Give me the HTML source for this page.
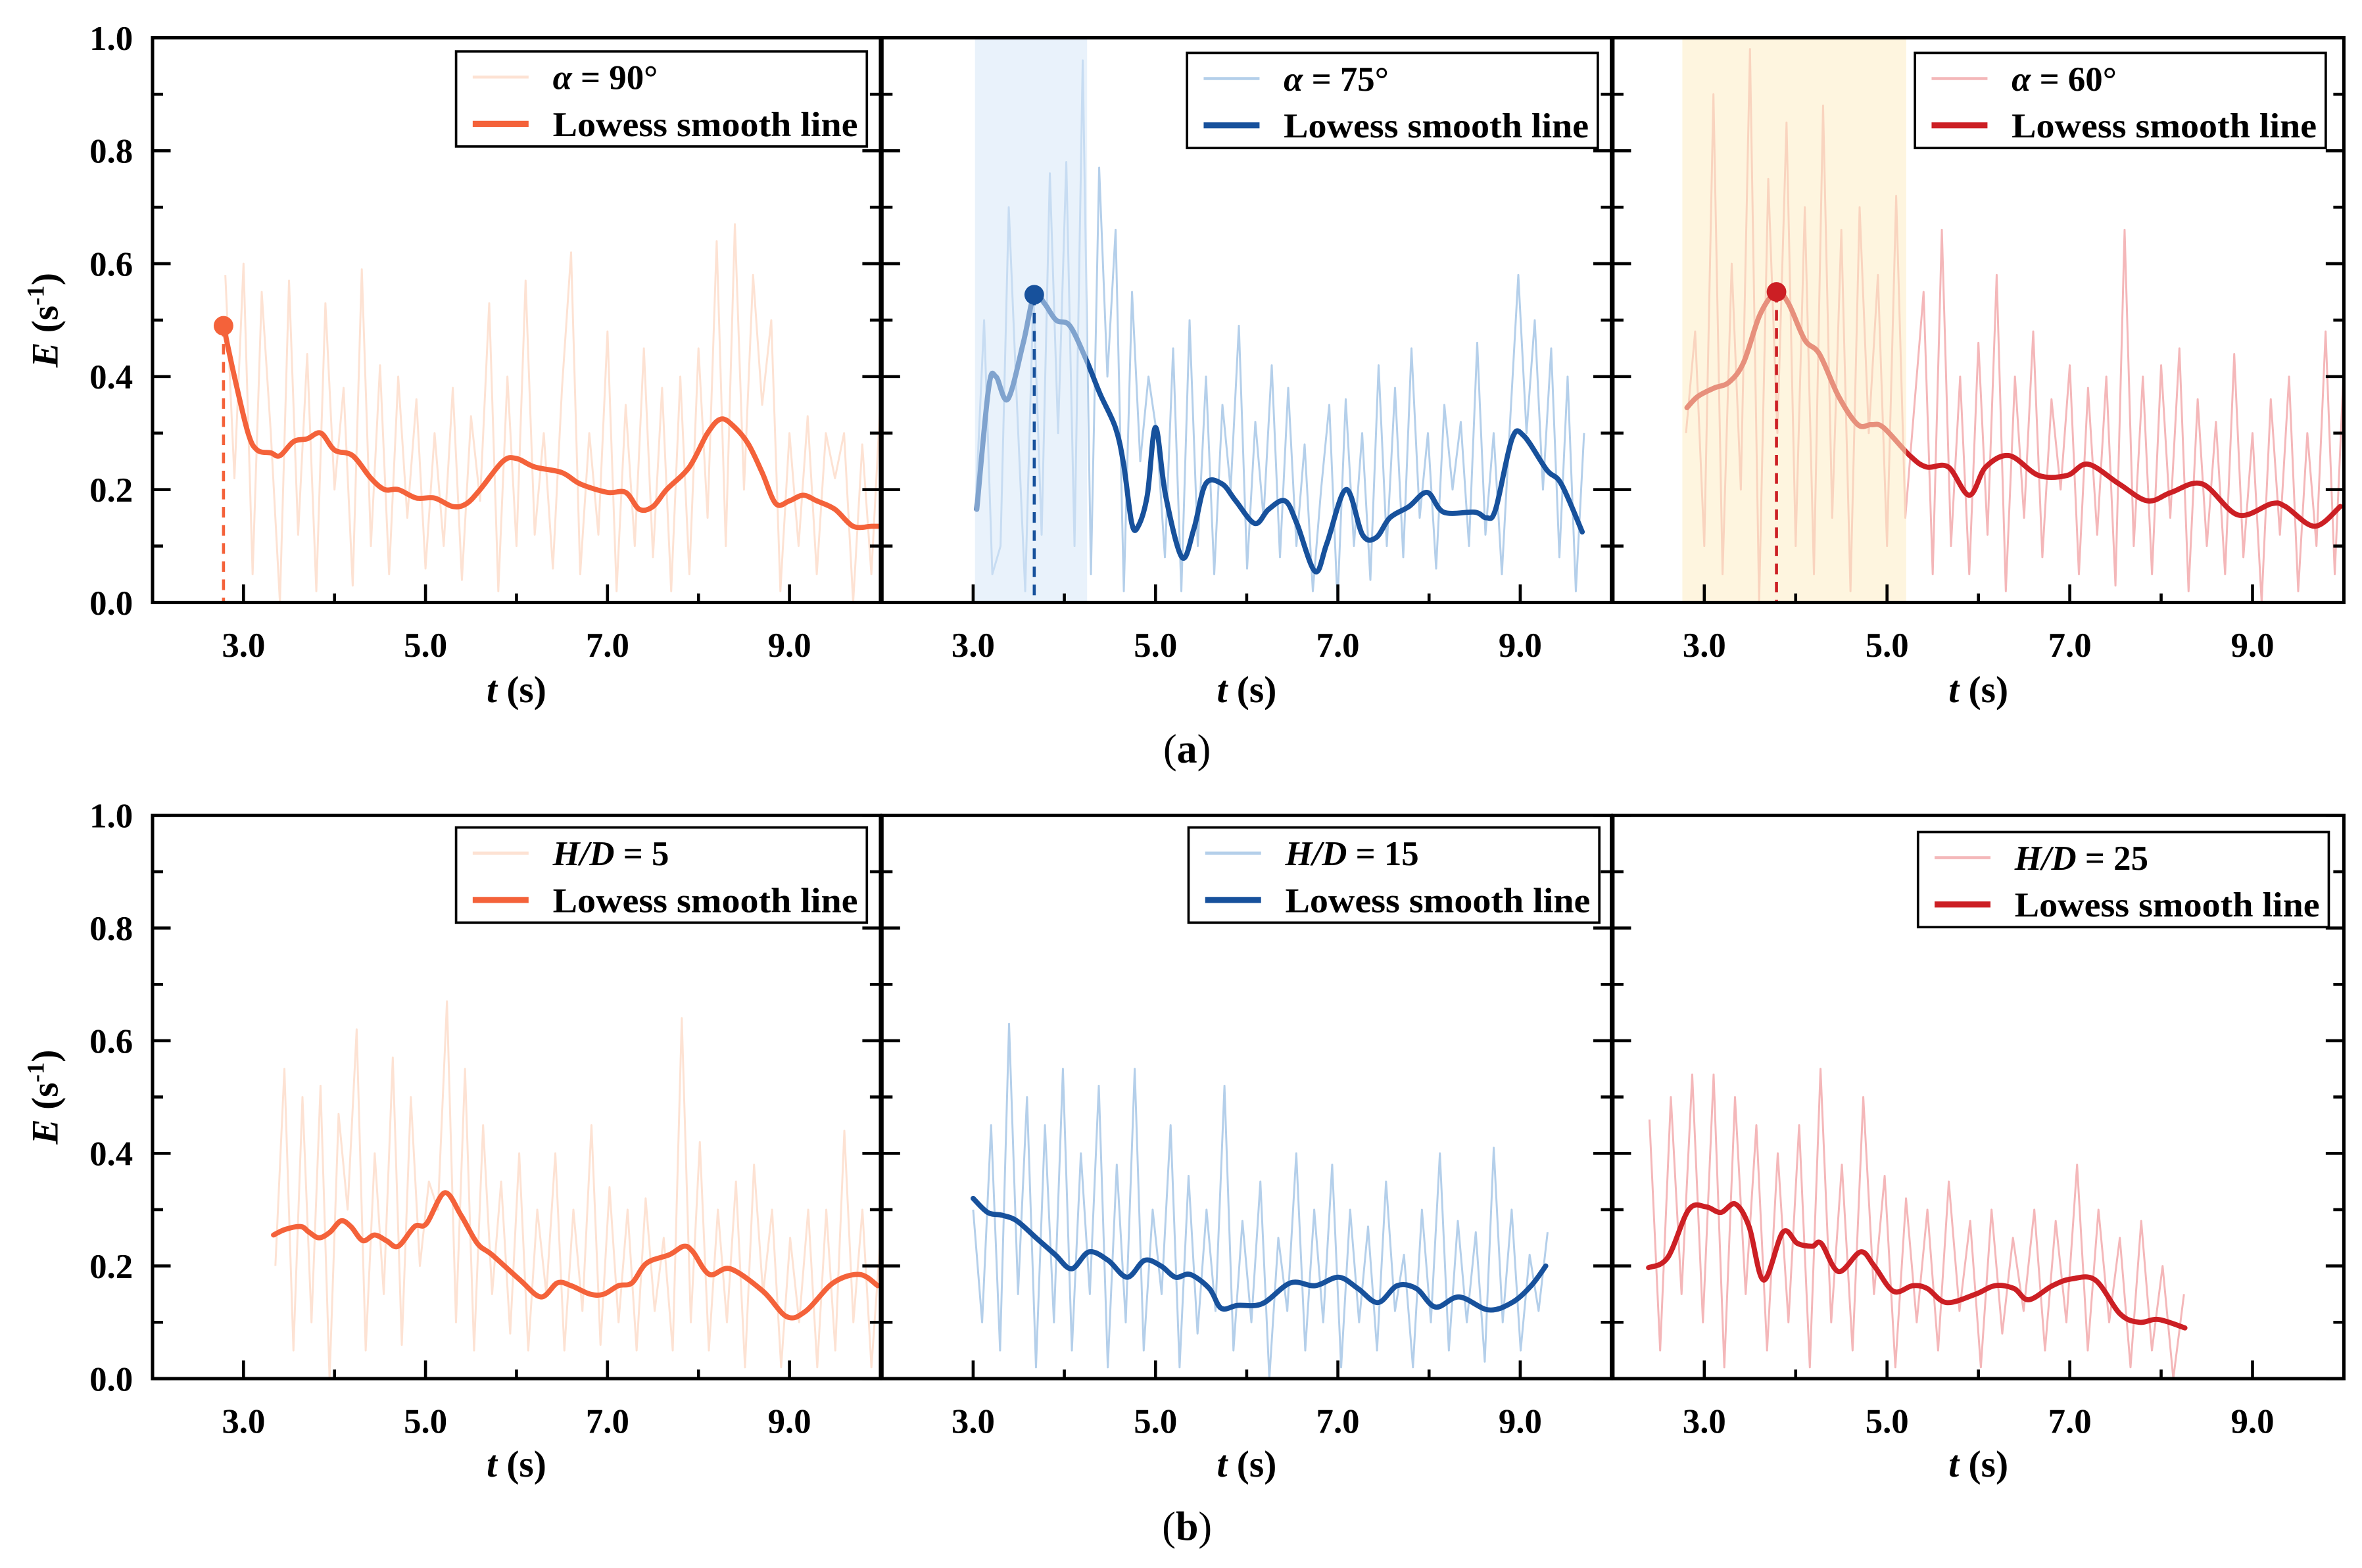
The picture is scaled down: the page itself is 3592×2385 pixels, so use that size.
<!DOCTYPE html>
<html><head><meta charset="utf-8"><style>
html,body{margin:0;padding:0;background:#fff;}
svg{display:block;}
svg text{font-family:"Liberation Serif","Times New Roman",serif;}
</style></head><body>
<svg id="fig" width="3592" height="2385" viewBox="0 0 1564 1038.4" xmlns="http://www.w3.org/2000/svg" font-family="Liberation Serif, serif"></svg>
<script>
// ---------- data ----------
const xTickLabels = ["3.0","5.0","7.0","9.0"];
const yTickLabels = ["0.0","0.2","0.4","0.6","0.8","1.0"];

const a1SmoothT = [2.78,2.9,3.05,3.15,3.3,3.4,3.55,3.7,3.85,4.0,4.2,4.4,4.55,4.7,4.9,5.1,5.3,5.45,5.6,5.85,6.0,6.2,6.5,6.7,7.0,7.2,7.35,7.5,7.65,7.9,8.1,8.25,8.4,8.55,8.7,8.85,9.0,9.15,9.3,9.5,9.7,9.9,10.0];
const a1SmoothE = [0.49,0.40,0.30,0.27,0.265,0.26,0.285,0.29,0.30,0.27,0.26,0.22,0.20,0.20,0.185,0.185,0.17,0.175,0.20,0.25,0.255,0.24,0.23,0.21,0.195,0.195,0.165,0.17,0.20,0.24,0.30,0.325,0.31,0.28,0.23,0.175,0.18,0.19,0.18,0.165,0.135,0.135,0.135];
const a1Raw = [0.58,0.22,0.60,0.05,0.55,0.30,0.00,0.57,0.12,0.44,0.02,0.53,0.20,0.38,0.03,0.59,0.10,0.42,0.05,0.40,0.15,0.36,0.06,0.30,0.10,0.38,0.04,0.33,0.18,0.53,0.02,0.40,0.10,0.57,0.12,0.30,0.06,0.38,0.62,0.05,0.30,0.12,0.48,0.02,0.35,0.10,0.45,0.08,0.38,0.02,0.40,0.05,0.45,0.15,0.64,0.10,0.67,0.20,0.58,0.35,0.50,0.02,0.30,0.10,0.33,0.05,0.30,0.22,0.30,0.00,0.28,0.05,0.36];
const a1RawRange = [2.8,10.0];
const a1Peak = [2.78,0.49];

const a2SmoothT = [3.04,3.17,3.25,3.38,3.55,3.67,3.78,3.91,4.06,4.24,4.39,4.56,4.65,4.74,4.81,4.91,5.0,5.11,5.29,5.42,5.55,5.73,5.88,6.09,6.24,6.42,6.55,6.75,6.88,7.09,7.27,7.42,7.57,7.78,7.98,8.16,8.5,8.63,8.73,8.91,9.04,9.29,9.45,9.68];
const a2SmoothE = [0.165,0.38,0.40,0.36,0.46,0.545,0.53,0.50,0.49,0.43,0.37,0.31,0.245,0.14,0.135,0.19,0.31,0.19,0.08,0.13,0.21,0.21,0.18,0.14,0.165,0.18,0.14,0.055,0.105,0.20,0.12,0.115,0.15,0.17,0.195,0.16,0.16,0.15,0.165,0.29,0.295,0.235,0.21,0.125];
const a2Raw = [0.18,0.50,0.05,0.10,0.70,0.35,0.02,0.55,0.12,0.76,0.30,0.78,0.10,0.96,0.05,0.77,0.40,0.66,0.02,0.55,0.25,0.40,0.30,0.08,0.45,0.02,0.50,0.10,0.40,0.05,0.35,0.20,0.49,0.06,0.32,0.15,0.42,0.08,0.38,0.10,0.28,0.02,0.20,0.35,0.00,0.36,0.10,0.30,0.04,0.42,0.10,0.38,0.08,0.45,0.15,0.30,0.06,0.35,0.20,0.32,0.10,0.46,0.12,0.30,0.05,0.32,0.58,0.30,0.50,0.20,0.45,0.08,0.40,0.02,0.30];
const a2RawRange = [3.03,9.7];
const a2Peak = [3.67,0.545];
const a2Shade = [3.02,4.25];

const a3SmoothT = [2.81,2.93,3.11,3.27,3.43,3.61,3.79,3.92,4.10,4.26,4.47,4.68,4.83,4.96,5.25,5.43,5.67,5.90,6.08,6.34,6.66,6.97,7.20,7.54,7.85,8.11,8.45,8.84,9.21,9.36,9.68,9.96];
const a3SmoothE = [0.345,0.365,0.38,0.39,0.425,0.51,0.55,0.53,0.465,0.44,0.365,0.315,0.315,0.31,0.26,0.24,0.24,0.19,0.24,0.26,0.225,0.225,0.245,0.21,0.18,0.195,0.21,0.155,0.175,0.17,0.135,0.17];
const a3Raw = [0.30,0.48,0.10,0.90,0.05,0.60,0.20,0.98,0.00,0.75,0.30,0.85,0.10,0.70,0.05,0.88,0.15,0.66,0.02,0.70,0.30,0.58,0.10,0.72,0.15,0.35,0.55,0.05,0.66,0.10,0.40,0.05,0.46,0.12,0.58,0.02,0.40,0.15,0.48,0.08,0.36,0.20,0.42,0.05,0.38,0.12,0.40,0.03,0.66,0.10,0.40,0.05,0.42,0.15,0.45,0.02,0.36,0.10,0.32,0.05,0.44,0.08,0.30,0.00,0.36,0.12,0.40,0.02,0.30,0.10,0.48,0.05,0.42];
const a3RawRange = [2.8,10.0];
const a3Peak = [3.79,0.55];
const a3Shade = [2.76,5.21];

const b1SmoothT = [3.33,3.46,3.63,3.72,3.83,3.95,4.07,4.18,4.31,4.44,4.57,4.70,4.88,5.01,5.21,5.39,5.57,5.73,6.04,6.27,6.45,6.60,6.81,6.96,7.12,7.27,7.43,7.68,7.84,7.94,8.12,8.35,8.71,8.97,9.18,9.48,9.77,9.97];
const b1SmoothE = [0.255,0.265,0.27,0.26,0.25,0.26,0.28,0.27,0.245,0.255,0.245,0.235,0.27,0.275,0.33,0.29,0.24,0.22,0.175,0.145,0.17,0.165,0.15,0.15,0.165,0.17,0.205,0.22,0.235,0.225,0.185,0.195,0.155,0.11,0.12,0.17,0.185,0.165];
const b1Raw = [0.20,0.55,0.05,0.50,0.10,0.52,0.00,0.47,0.30,0.62,0.05,0.40,0.15,0.57,0.06,0.50,0.20,0.35,0.30,0.67,0.10,0.55,0.05,0.45,0.15,0.35,0.08,0.40,0.05,0.30,0.15,0.40,0.05,0.30,0.12,0.45,0.06,0.34,0.10,0.30,0.05,0.32,0.12,0.25,0.05,0.64,0.10,0.42,0.05,0.30,0.10,0.35,0.02,0.38,0.15,0.30,0.02,0.25,0.10,0.30,0.02,0.30,0.05,0.44,0.10,0.30,0.02,0.25];
const b1RawRange = [3.35,10.0];

const b2SmoothT = [3.0,3.16,3.32,3.48,3.69,3.9,4.08,4.27,4.48,4.69,4.88,5.06,5.22,5.38,5.59,5.72,5.90,6.17,6.48,6.75,7.01,7.22,7.44,7.65,7.86,8.07,8.33,8.65,8.91,9.12,9.28];
const b2SmoothE = [0.32,0.295,0.29,0.28,0.25,0.22,0.195,0.225,0.21,0.18,0.21,0.2,0.18,0.185,0.16,0.125,0.13,0.133,0.17,0.165,0.18,0.16,0.135,0.165,0.16,0.127,0.145,0.122,0.135,0.165,0.2];
const b2Raw = [0.30,0.10,0.45,0.05,0.63,0.15,0.50,0.02,0.45,0.10,0.55,0.05,0.40,0.15,0.52,0.02,0.38,0.10,0.55,0.05,0.30,0.15,0.45,0.02,0.36,0.08,0.30,0.12,0.52,0.05,0.28,0.10,0.35,0.00,0.25,0.12,0.40,0.05,0.30,0.10,0.38,0.02,0.30,0.10,0.27,0.05,0.35,0.12,0.22,0.02,0.30,0.10,0.40,0.05,0.28,0.10,0.26,0.03,0.41,0.10,0.30,0.05,0.22,0.12,0.26];
const b2RawRange = [3.0,9.3];

const b3SmoothT = [2.39,2.6,2.83,3.02,3.18,3.34,3.49,3.65,3.86,4.02,4.18,4.28,4.47,4.71,4.86,5.07,5.28,5.44,5.65,5.97,6.18,6.39,6.55,6.81,7.02,7.28,7.55,7.76,7.97,8.26];
const b3SmoothE = [0.197,0.215,0.3,0.305,0.295,0.31,0.27,0.175,0.26,0.24,0.235,0.24,0.19,0.225,0.2,0.155,0.165,0.16,0.135,0.15,0.165,0.16,0.14,0.165,0.177,0.175,0.115,0.1,0.105,0.09];
const b3Raw = [0.46,0.05,0.50,0.15,0.54,0.10,0.54,0.02,0.50,0.15,0.45,0.05,0.40,0.10,0.45,0.02,0.55,0.10,0.38,0.05,0.50,0.15,0.36,0.02,0.32,0.10,0.30,0.05,0.35,0.12,0.28,0.02,0.30,0.08,0.25,0.12,0.30,0.05,0.28,0.10,0.38,0.05,0.30,0.10,0.25,0.02,0.28,0.05,0.20,0.00,0.15];
const b3RawRange = [2.4,8.25];

// ---------- drawing ----------
const NS = "http://www.w3.org/2000/svg";
const svg = document.getElementById("fig");
const FF = '"Liberation Serif", serif';
function mk(tag, attrs, parent){
  const e = document.createElementNS(NS, tag);
  for (const k in attrs) e.setAttribute(k, attrs[k]);
  if (tag === "text") e.style.fontFamily = FF;
  (parent||svg).appendChild(e);
  return e;
}
function smoothPath(pts){
  let d = "M"+pts[0][0].toFixed(2)+","+pts[0][1].toFixed(2);
  for (let i=0;i<pts.length-1;i++){
    const p0 = pts[Math.max(0,i-1)], p1 = pts[i], p2 = pts[i+1], p3 = pts[Math.min(pts.length-1,i+2)];
    const c1x = p1[0]+(p2[0]-p0[0])/6, c1y = p1[1]+(p2[1]-p0[1])/6;
    const c2x = p2[0]-(p3[0]-p1[0])/6, c2y = p2[1]-(p3[1]-p1[1])/6;
    d += " C"+c1x.toFixed(2)+","+c1y.toFixed(2)+" "+c2x.toFixed(2)+","+c2y.toFixed(2)+" "+p2[0].toFixed(2)+","+p2[1].toFixed(2);
  }
  return d;
}
const panelsX = [[101,583],[584,1067],[1068,1552]];
const rows = [{top:25,bot:399,tickY:435,titleY:465,cap:"a",capY:505},{top:540,bot:913,tickY:949,titleY:978,cap:"b",capY:1020}];

const panels = [
  {row:0,col:0,smoothT:a1SmoothT,smoothE:a1SmoothE,raw:a1Raw,range:a1RawRange,peak:a1Peak,shade:null,
   dark:"#f4623a",light:"#fde2d3",shadeCol:null,lab:["α"," = 90°"],legX:302,legY:34,name:"alpha-90"},
  {row:0,col:1,smoothT:a2SmoothT,smoothE:a2SmoothE,raw:a2Raw,range:a2RawRange,peak:a2Peak,shade:a2Shade,
   dark:"#17519c",light:"#b4cfea",shadeCol:"#d7e7f8",lab:["α"," = 75°"],legX:786,legY:35,name:"alpha-75"},
  {row:0,col:2,smoothT:a3SmoothT,smoothE:a3SmoothE,raw:a3Raw,range:a3RawRange,peak:a3Peak,shade:a3Shade,
   dark:"#cc1f24",light:"#f4b7b9",shadeCol:"#fdecc4",lab:["α"," = 60°"],legX:1268,legY:35,name:"alpha-60"},
  {row:1,col:0,smoothT:b1SmoothT,smoothE:b1SmoothE,raw:b1Raw,range:b1RawRange,peak:null,shade:null,
   dark:"#f4623a",light:"#fde2d3",shadeCol:null,lab:["H/D"," = 5"],legX:302,legY:548,name:"hd-5"},
  {row:1,col:1,smoothT:b2SmoothT,smoothE:b2SmoothE,raw:b2Raw,range:b2RawRange,peak:null,shade:null,
   dark:"#17519c",light:"#b4cfea",shadeCol:null,lab:["H/D"," = 15"],legX:787,legY:548,name:"hd-15"},
  {row:1,col:2,smoothT:b3SmoothT,smoothE:b3SmoothE,raw:b3Raw,range:b3RawRange,peak:null,shade:null,
   dark:"#cc1f24",light:"#f4b7b9",shadeCol:null,lab:["H/D"," = 25"],legX:1270,legY:551,name:"hd-25"}
];

panels.forEach(p=>{
  const r = rows[p.row];
  const [x0,x1] = panelsX[p.col];
  const xs = t => x0 + (t-2)/8*(x1-x0);
  const ys = e => r.bot - e*(r.bot-r.top);
  const g = mk("g",{});
  
  

  const n = p.raw.length;
  const step = (p.range[1]-p.range[0])/(n-1);
  const rawPts = p.raw.map((v,i)=>xs(p.range[0]+i*step).toFixed(2)+","+ys(v).toFixed(2)).join(" ");
  const raw = mk("polyline",{points:rawPts,fill:"none",stroke:p.light,"stroke-width":1.3,"stroke-linejoin":"round"},g);
  
  

  const sp = p.smoothT.map((t,i)=>[xs(t),ys(p.smoothE[i])]);
  const sm = mk("path",{d:smoothPath(sp),fill:"none",stroke:p.dark,"stroke-width":3.4,"stroke-linejoin":"round","stroke-linecap":"round"},g);
  
  

  if (p.shade){
    const sh = mk("rect",{x:xs(p.shade[0]),y:r.top,width:xs(p.shade[1])-xs(p.shade[0]),height:r.bot-r.top,fill:p.shadeCol,opacity:0.55},g);
    
    
  }
  if (p.peak){
    const dl = mk("line",{x1:xs(p.peak[0]),y1:ys(p.peak[1]),x2:xs(p.peak[0]),y2:r.bot,stroke:p.dark,"stroke-width":2,"stroke-dasharray":"7,5"},g);
    
    
    const c = mk("circle",{cx:xs(p.peak[0]),cy:ys(p.peak[1]),r:6.5,fill:p.dark},g);
    
    
  }

  for (let i=0;i<=10;i++){
    const y = ys(i/10), len = i%2===0?12:7;
    mk("line",{x1:x0,y1:y,x2:x0+len,y2:y,stroke:"#000","stroke-width":2},g);
    mk("line",{x1:x1,y1:y,x2:x1-len,y2:y,stroke:"#000","stroke-width":2},g);
  }
  for (let t=3;t<=9;t++){
    const len = t%2===1?12:6;
    mk("line",{x1:xs(t),y1:r.bot,x2:xs(t),y2:r.bot-len,stroke:"#000","stroke-width":2},g);
  }
  const fr = mk("rect",{x:x0,y:r.top,width:x1-x0,height:r.bot-r.top,fill:"none",stroke:"#000","stroke-width":2.2},g);
  
  

  xTickLabels.forEach(lbl=>{
    const tx = mk("text",{x:xs(parseFloat(lbl)),y:r.tickY,"text-anchor":"middle","font-size":23,"font-weight":"bold"},g);
    tx.textContent = lbl;
    
    
  });
  const xt = mk("text",{x:(x0+x1)/2,y:r.titleY,"text-anchor":"middle","font-size":25,"font-weight":"bold"},g);
  xt.innerHTML = '<tspan font-style="italic">t</tspan> (s)';
  
  

  if (p.col===0){
    yTickLabels.forEach(lbl=>{
      const ty = mk("text",{x:88,y:ys(parseFloat(lbl))+8,"text-anchor":"end","font-size":23,"font-weight":"bold"},g);
      ty.textContent = lbl;
      
      
    });
    const yl = mk("text",{x:0,y:0,"text-anchor":"middle","font-size":25,"font-weight":"bold",transform:`translate(38,${(r.top+r.bot)/2}) rotate(-90)`},g);
    yl.innerHTML = '<tspan font-style="italic">E</tspan> (s<tspan dy="-9" font-size="16">-1</tspan><tspan dy="9">)</tspan>';
    
    
  }

  const lg = mk("g",{},g);
  
  
  mk("rect",{x:p.legX,y:p.legY,width:272,height:63,fill:"#fff",stroke:"#000","stroke-width":1.6},lg);
  mk("line",{x1:p.legX+11,y1:p.legY+17,x2:p.legX+48,y2:p.legY+17,stroke:p.light,"stroke-width":2},lg);
  mk("line",{x1:p.legX+11,y1:p.legY+48,x2:p.legX+48,y2:p.legY+48,stroke:p.dark,"stroke-width":4},lg);
  const l1 = mk("text",{x:p.legX+64,y:p.legY+25,"font-size":23,"font-weight":"bold"},lg);
  l1.innerHTML = '<tspan font-style="italic">'+p.lab[0]+'</tspan>'+p.lab[1];
  
  
  const l2 = mk("text",{x:p.legX+64,y:p.legY+56,"font-size":23,"font-weight":"bold",textLength:202,lengthAdjust:"spacingAndGlyphs"},lg);
  l2.textContent = "Lowess smooth line";
  
  
});

rows.forEach(r=>{
  const c = mk("text",{x:786,y:r.capY,"text-anchor":"middle","font-size":27});
  c.innerHTML = '(<tspan font-weight="bold">'+r.cap+'</tspan>)';
  
  
});
</script>
</body></html>
